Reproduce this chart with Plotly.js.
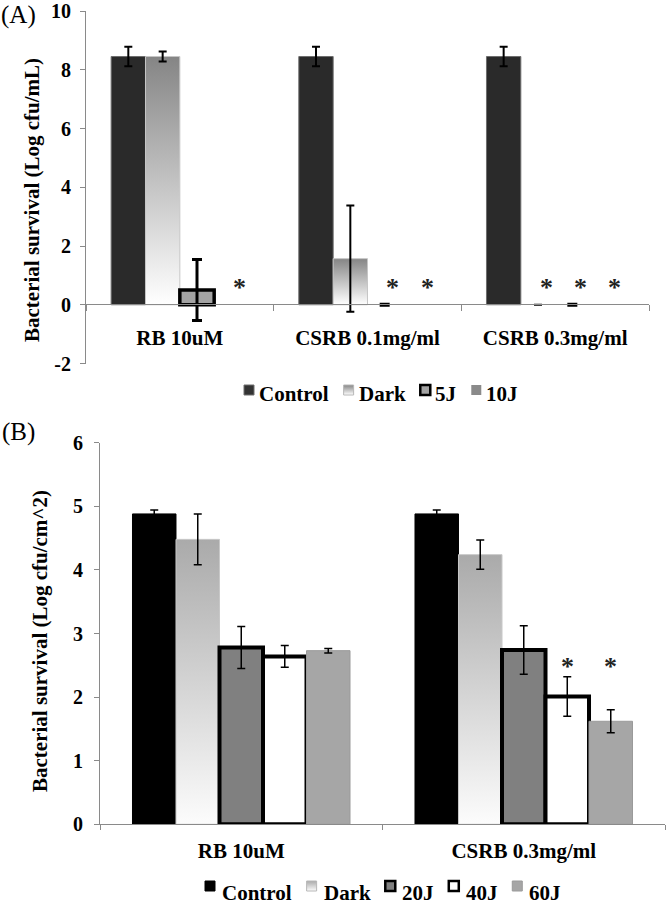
<!DOCTYPE html>
<html><head><meta charset="utf-8">
<script src="https://cdn.plot.ly/plotly-3.0.1.min.js"></script>
<style>html,body{margin:0;padding:0;background:#fff}</style>
</head><body><div id="chart" style="width:666px;height:905px"></div>
<script>
// ---------- Panel A data ----------
const categoriesA = ['RB 10uM', 'CSRB 0.1mg/ml', 'CSRB 0.3mg/ml'];
const seriesA = ['Control', 'Dark', '5J', '10J'];
const controlA = [8.45, 8.45, 8.45];
const controlAErr = [0.33, 0.33, 0.33];
const darkA = [8.45, 1.57, 0];
const darkAErr = [0.17, 1.81, 0];
const j5A = [0.5, 0, 0];
const j5AErr = [1.04, 0.02, 0.02];
const j10A = [0, 0, 0];
const starsA = [[0, 3], [1, 2], [1, 3], [2, 1], [2, 2], [2, 3]]; // [category, series]
const starLevelA = 0.6;
const yTicksA = [-2, 0, 2, 4, 6, 8, 10];
const yTickTextA = ['-2', '0', '2', '4', '6', '8', '10'];

// ---------- Panel B data ----------
const categoriesB = ['RB 10uM', 'CSRB 0.3mg/ml'];
const seriesB = ['Control', 'Dark', '20J', '40J', '60J'];
const controlB = [4.88, 4.88];
const controlBErr = [0.06, 0.06];
const darkB = [4.48, 4.24];
const darkBErr = [0.40, 0.23];
const j20B = [2.78, 2.74];
const j20BErr = [0.33, 0.38];
const j40B = [2.64, 2.01];
const j40BErr = [0.17, 0.31];
const j60B = [2.73, 1.62];
const j60BErr = [0.035, 0.18];
const starsB = [[1, 3], [1, 4]];
const starLevelB = 2.48;
const yTicksB = [0, 1, 2, 3, 4, 5, 6];
const yTickTextB = ['0', '1', '2', '3', '4', '5', '6'];

// ---------- styling ----------
const W = 666, H = 905;
const FONT = 'Liberation Serif, Times New Roman, serif';
const AXC = '#8a8a8a';
const px = x => x / W;
const py = y => 1 - y / H;

const styleA = [
  {fill: '#2a2a2a', line: '#6e6e6e', lw: 1, et: 2, ew: 4, legFill: '#333333', legLine: '#6e6e6e', legLw: 1},
  {fill: '#cccccc', line: '#c6c6c6', lw: 1, et: 2, ew: 4, grad: 'gradA', legFill: '#d0d0d0', legLine: '#b8b8b8', legLw: 1},
  {fill: '#a3a3a3', line: '#000000', lw: 3.5, et: 3, ew: 5, legFill: '#a3a3a3', legLine: '#000000', legLw: 2.5},
  {fill: '#8a8a8a', line: '#8a8a8a', lw: 0, et: 2, ew: 4, legFill: '#8a8a8a', legLine: '#8a8a8a', legLw: 0}
];
const styleB = [
  {fill: '#000000', line: '#000000', lw: 1, legFill: '#000000', legLine: '#000000', legLw: 1},
  {fill: '#d0d0d0', line: '#c8c8c8', lw: 1, grad: 'gradB', legFill: '#d8d8d8', legLine: '#b8b8b8', legLw: 1},
  {fill: '#808080', line: '#000000', lw: 4, legFill: '#808080', legLine: '#000000', legLw: 2.5},
  {fill: '#ffffff', line: '#000000', lw: 4, legFill: '#ffffff', legLine: '#000000', legLw: 2.5},
  {fill: '#a6a6a6', line: '#9a9a9a', lw: 1, legFill: '#a6a6a6', legLine: '#9a9a9a', legLw: 1}
];

const valuesA = [controlA, darkA, j5A, j10A];
const errorsA = [controlAErr, darkAErr, j5AErr, null];
const valuesB = [controlB, darkB, j20B, j40B, j60B];
const errorsB = [controlBErr, darkBErr, j20BErr, j40BErr, j60BErr];

const widthA = 0.183, widthB = 0.154;
const offA = i => (i - seriesA.length / 2) * widthA;
const offB = i => (i - seriesB.length / 2) * widthB;

const traces = [];
seriesA.forEach((name, i) => {
  const s = styleA[i];
  traces.push({
    type: 'bar', name: name, x: categoriesA, y: valuesA[i],
    xaxis: 'x', yaxis: 'y', width: widthA, offset: offA(i),
    marker: {color: s.fill, line: {color: s.line, width: valuesA[i].map(v => v > 0 ? s.lw : 0)}},
    error_y: errorsA[i] ? {type: 'data', array: errorsA[i], visible: true, color: '#000', thickness: s.et, width: s.ew} : {visible: false},
    meta: s.grad || '', showlegend: false
  });
});
seriesB.forEach((name, i) => {
  const s = styleB[i];
  traces.push({
    type: 'bar', name: name, x: categoriesB, y: valuesB[i],
    xaxis: 'x2', yaxis: 'y2', width: widthB, offset: offB(i),
    marker: {color: s.fill, line: {color: s.line, width: s.lw}},
    error_y: {type: 'data', array: errorsB[i], visible: true, color: '#000', thickness: 1.5, width: 4},
    meta: s.grad || '', showlegend: false
  });
});

const annotations = [];
const shapes = [];
const starFont = {family: FONT, size: 26, color: '#222', weight: 'bold'};

// significance stars
starsA.forEach(([c, s]) => annotations.push({
  xref: 'x', yref: 'y', x: c + offA(s) + widthA / 2, y: starLevelA, xshift: 8,
  text: '*', showarrow: false, font: starFont, yanchor: 'middle'
}));
starsB.forEach(([c, s]) => annotations.push({
  xref: 'x2', yref: 'y2', x: c + offB(s) + widthB / 2, y: starLevelB,
  text: '*', showarrow: false, font: starFont, yanchor: 'middle'
}));

// panel labels and axis titles
annotations.push({xref: 'paper', yref: 'paper', x: 0, y: 1, xanchor: 'left', yanchor: 'top',
  text: '(A)', showarrow: false, font: {family: FONT, size: 25, color: '#000'}, borderpad: 0});
annotations.push({xref: 'paper', yref: 'paper', x: 0, y: py(432), xanchor: 'left', yanchor: 'middle',
  text: '(B)', showarrow: false, font: {family: FONT, size: 25, color: '#000'}});
annotations.push({xref: 'paper', yref: 'paper', x: px(32), y: py(200), xanchor: 'center', yanchor: 'middle',
  textangle: -90, text: 'Bacterial survival (Log cfu/mL)', showarrow: false, font: {family: FONT, size: 21, color: '#000', weight: 'bold'}});
annotations.push({xref: 'paper', yref: 'paper', x: px(40), y: py(641), xanchor: 'center', yanchor: 'middle',
  textangle: -90, text: 'Bacterial survival (Log cfu/cm^2)', showarrow: false, font: {family: FONT, size: 21, color: '#000', weight: 'bold'}});

// legends (built from the series names)
const ctx = document.createElement('canvas').getContext('2d');
ctx.font = 'bold 21px "Liberation Serif"';
const gradShapes = [];
function buildLegend(names, styles, left, squareTop, textY, gapText, gapItem) {
  let x = left;
  names.forEach((n, i) => {
    const s = styles[i];
    if (s.grad) gradShapes.push({idx: shapes.length, grad: s.grad});
    shapes.push({type: 'rect', xref: 'paper', yref: 'paper', layer: 'above',
      x0: px(x), x1: px(x + 10), y0: py(squareTop + 10), y1: py(squareTop),
      fillcolor: s.legFill, line: {color: s.legLine, width: s.legLw}});
    annotations.push({xref: 'paper', yref: 'paper', x: px(x + 10 + gapText), y: py(textY),
      xanchor: 'left', yanchor: 'middle', text: n, showarrow: false,
      font: {family: FONT, size: 21, color: '#000', weight: 'bold'}, borderpad: 0});
    x += 10 + gapText + ctx.measureText(n).width + gapItem;
  });
}
buildLegend(seriesA, styleA, 244, 385, 394, 4, 16);
buildLegend(seriesB, styleB, 205, 881, 893, 6, 16);

const tickFont = {family: FONT, size: 20, color: '#000', weight: 'bold'};
const catFont = {family: FONT, size: 21, color: '#000', weight: 'bold'};

const layout = {
  width: W, height: H, autosize: false,
  margin: {l: 0, r: 0, t: 0, b: 0, pad: 0},
  paper_bgcolor: '#fff', plot_bgcolor: 'rgba(0,0,0,0)',
  barmode: 'overlay', showlegend: false,
  xaxis: {domain: [px(86), px(649)], anchor: 'free', position: py(304.3), type: 'category',
    range: [-0.5, 2.5], tickson: 'boundaries', ticks: 'outside', ticklen: 6, tickcolor: AXC,
    showline: true, linecolor: AXC, linewidth: 1, showgrid: false, zeroline: false,
    tickfont: catFont, ticklabelstandoff: 14, fixedrange: true},
  yaxis: {domain: [py(363.5), py(11)], anchor: 'x', range: [-2, 10], tickvals: yTicksA, ticktext: yTickTextA,
    ticks: 'outside', ticklen: 5, tickcolor: AXC, showline: true, linecolor: AXC, linewidth: 1,
    showgrid: false, zeroline: false, tickfont: tickFont, ticklabelstandoff: 5,
    ticklabeloverflow: 'allow', fixedrange: true},
  xaxis2: {domain: [px(100), px(665)], anchor: 'y2', type: 'category', range: [-0.5, 1.5],
    tickson: 'boundaries', ticks: 'outside', ticklen: 5, tickcolor: AXC,
    showline: true, linecolor: AXC, linewidth: 1, showgrid: false, zeroline: false,
    tickfont: catFont, ticklabelstandoff: 7, fixedrange: true},
  yaxis2: {domain: [py(824.3), py(442.7)], anchor: 'x2', range: [0, 6], tickvals: yTicksB, ticktext: yTickTextB,
    ticks: 'outside', ticklen: 5, tickcolor: AXC, showline: true, linecolor: AXC, linewidth: 1,
    showgrid: false, zeroline: false, tickfont: tickFont, ticklabelstandoff: 7,
    ticklabeloverflow: 'allow', fixedrange: true},
  annotations: annotations,
  shapes: shapes
};

function applyGradients(gd) {
  const NS = 'http://www.w3.org/2000/svg';
  const svg = gd.querySelector('svg.main-svg');
  let defs = svg.querySelector('defs');
  if (!defs) { defs = document.createElementNS(NS, 'defs'); svg.insertBefore(defs, svg.firstChild); }
  function addGrad(id, top, bottom) {
    const g = document.createElementNS(NS, 'linearGradient');
    g.setAttribute('id', id);
    g.setAttribute('x1', '0'); g.setAttribute('y1', '0');
    g.setAttribute('x2', '0'); g.setAttribute('y2', '1');
    [[0, top], [1, bottom]].forEach(([o, c]) => {
      const st = document.createElementNS(NS, 'stop');
      st.setAttribute('offset', o); st.setAttribute('stop-color', c);
      g.appendChild(st);
    });
    defs.appendChild(g);
  }
  addGrad('gradA', '#858585', '#ffffff');
  addGrad('gradB', '#aaaaaa', '#fcfcfc');
  gd.querySelectorAll('.barlayer .trace').forEach(el => {
    const cd = el.__data__;
    const tr = cd && cd[0] && cd[0].trace;
    const g = tr && (tr.meta || (tr._input && tr._input.meta));
    if (g) el.querySelectorAll('.point path').forEach(p => { p.style.fill = 'url(#' + g + ')'; });
  });
  gradShapes.forEach(({idx, grad}) => {
    gd.querySelectorAll('.shapelayer path[data-index="' + idx + '"]').forEach(p => { p.style.fill = 'url(#' + grad + ')'; p.style.fillOpacity = 1; });
  });
}

const gd = document.getElementById('chart');
Plotly.newPlot(gd, traces, layout, {staticPlot: true, displayModeBar: false}).then(applyGradients);
</script></body></html>
